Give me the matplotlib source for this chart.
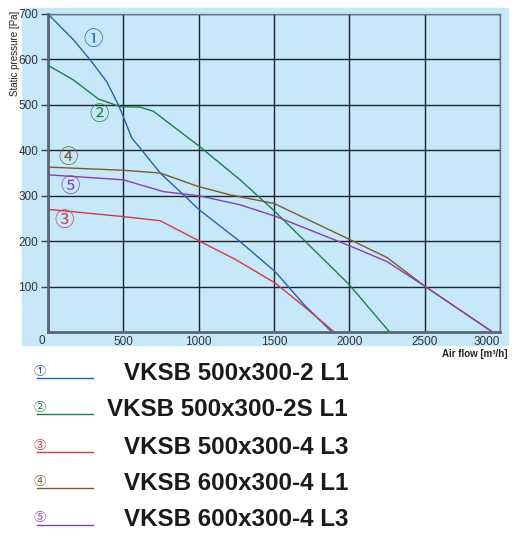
import matplotlib
matplotlib.use("Agg")
import matplotlib.pyplot as plt
from matplotlib.patches import Rectangle
from matplotlib.lines import Line2D

# fan curves (air flow m3/h, static pressure Pa)
flow_1 = [0, 170, 280, 390, 467, 500, 556, 611, 750, 900, 1000, 1275, 1507, 1700, 1884]
pres_1 = [700, 643, 599, 551, 500, 474, 427, 405, 348, 302, 270, 199, 133, 60, 0]

flow_2 = [0, 168, 334, 478, 611, 699, 1000, 1275, 1507, 2000, 2267]
pres_2 = [587, 555, 513, 496, 495, 486, 410, 335, 265, 104, 0]

flow_3 = [0, 500, 744, 1000, 1242, 1507, 1700, 1900]
pres_3 = [270, 254, 245, 201, 160, 108, 56, 0]

flow_4 = [0, 500, 744, 1000, 1208, 1500, 2000, 2250, 2500, 2950]
pres_4 = [363, 356, 350, 320, 302, 283, 204, 164, 101, 0]

flow_5 = [0, 500, 766, 1000, 1275, 1507, 2000, 2250, 2500, 2950]
pres_5 = [346, 335, 309, 300, 280, 255, 190, 155, 101, 0]

models = ["VKSB 500x300-2 L1", "VKSB 500x300-2S L1", "VKSB 500x300-4 L3",
          "VKSB 600x300-4 L1", "VKSB 600x300-4 L3"]
marks = ["①", "②", "③", "④", "⑤"]
colors = ["#2462b0", "#1e7d4e", "#d23a48", "#7a5c2c", "#8a3fb0"]
# where the circled numbers sit inside the chart
mark_x = [301, 341, 106, 135, 146]
mark_y = [643, 478, 245, 385, 320]

x_ticks = [0, 500, 1000, 1500, 2000, 2500, 3000]
y_ticks = [100, 200, 300, 400, 500, 600, 700]

W, H = 515, 538
fx = lambda px: px / W
fy = lambda py: 1 - py / H

fig = plt.figure(figsize=(W / 100, H / 100), dpi=100)
sym_font = ["Noto Sans CJK JP", "DejaVu Sans"]

# light blue panel behind the chart
fig.patches.append(Rectangle((fx(22), fy(345)), fx(508) - fx(22), fy(8) - fy(345),
                             transform=fig.transFigure, color="#c7e8f8", zorder=-10))

ax = fig.add_axes([fx(48), fy(332), fx(500) - fx(48), fy(14) - fy(332)])
ax.set_facecolor("none")

curves = [(flow_1, pres_1), (flow_2, pres_2), (flow_3, pres_3),
          (flow_4, pres_4), (flow_5, pres_5)]
for (fl, pr), c in zip(curves, colors):
    ax.plot(fl, pr, color=c, lw=1.0, zorder=3)

for m, c, x, y in zip(marks, colors, mark_x, mark_y):
    ax.text(x, y, m, color=c, fontsize=14, family=sym_font,
            ha="center", va="center", zorder=4)

ax.set_xlim(0, 3000)
ax.set_ylim(0, 700)
ax.set_xticks(x_ticks)
ax.set_yticks(y_ticks)
# the origin "0" is drawn separately, a bit left of the corner
ax.set_xticklabels([""] + [str(v) for v in x_ticks[1:]])
ax.set_yticklabels([str(v) for v in y_ticks])
ax.grid(True, color="#1c2430", lw=1.0, zorder=1)
ax.tick_params(axis="x", length=0, pad=3, labelsize=8.5, labelcolor="#333333")
ax.tick_params(axis="y", length=5, width=1, color="#3a4450", pad=2,
               labelsize=8.5, labelcolor="#333333")
xlabels = ax.get_xticklabels()
xlabels[-1].set_horizontalalignment("right")
for lbl in ax.get_yticklabels():
    lbl.set_family("Liberation Sans")
for lbl in xlabels:
    lbl.set_family("Liberation Sans")
ax.annotate("0", (0, 0), xytext=(-6, -8.5), textcoords="offset pixels",
            ha="center", va="center", fontsize=8.5, family="Liberation Sans",
            color="#333333", annotation_clip=False)

for side in ["left", "bottom"]:
    ax.spines[side].set_color("#5a6672")
    ax.spines[side].set_linewidth(2)
for side in ["top", "right"]:
    ax.spines[side].set_color("#6a7480")
    ax.spines[side].set_linewidth(1)

fig.text(fx(15), fy(53), "Static pressure [Pa]", rotation=90, ha="center", va="center",
         fontsize=7, family="Liberation Sans", color="#222222")
fig.text(fx(508), fy(354), "Air flow [m³/h]", ha="right", va="center",
         fontsize=7, family="Liberation Sans", weight="bold", color="#222222")

# legend below the chart
rows = [373, 409, 447, 483, 520]
for m, name, c, r in zip(marks, models, colors, rows):
    fig.text(fx(40), fy(r - 2), m, color=c, fontsize=9, family=sym_font,
             ha="center", va="center")
    fig.lines.append(Line2D([fx(37), fx(93)], [fy(r + 5), fy(r + 5)],
                            transform=fig.transFigure, color=c, lw=1.0))
    fig.text(fx(348), fy(r), name, ha="right", va="center", fontsize=17.4,
             family="Liberation Sans", weight="bold", color="#1a1a1a")

fig.savefig("out.png", dpi=100)
